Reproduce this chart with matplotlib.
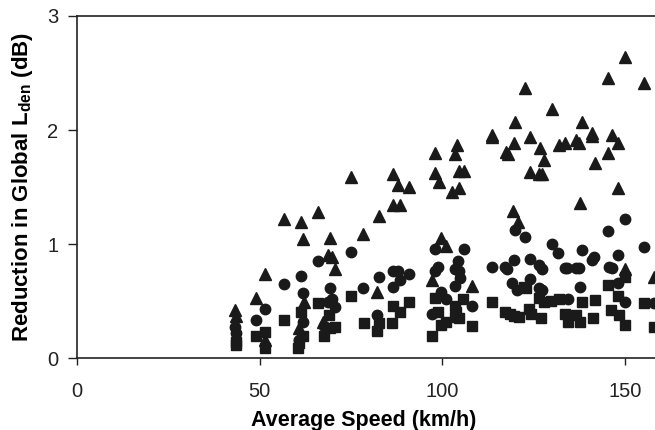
import matplotlib
matplotlib.use("Agg")
import matplotlib.pyplot as plt

plt.rcParams['font.family'] = ['Liberation Sans', 'DejaVu Sans']
plt.rcParams['mathtext.fontset'] = 'custom'
plt.rcParams['mathtext.rm'] = 'Liberation Sans'
plt.rcParams['mathtext.bf'] = 'Liberation Sans:bold'

# Triangles (upper series)
tri_x = [43.2, 43.6, 49.0, 51.5, 51.5, 56.6, 61.2, 61.8, 62.1, 60.7, 66.0, 67.4, 69.3, 68.6, 69.9,
         70.5, 74.9, 78.4, 82.0, 82.6, 86.6, 87.9, 90.8, 86.5, 88.4, 98.1, 98.1, 99.0, 99.5, 101.0,
         97.1, 104.0, 103.5, 104.6, 105.8, 102.6, 104.6, 108.0, 113.5, 113.6, 119.9, 122.7, 117.4,
         118.0, 119.7, 123.9, 126.7, 127.7, 124.0, 126.5, 127.4, 130.1, 131.8, 133.6, 136.5, 137.4,
         138.3, 140.9, 141.0, 141.7, 146.3, 148.1, 145.4, 145.4, 149.9, 155.3, 148.2, 137.7, 119.3,
         120.8, 150.0, 158.0]
tri_y = [0.42, 0.37, 0.53, 0.74, 0.16, 1.22, 1.19, 1.04, 0.49, 0.26, 1.28, 0.32, 1.05, 0.90, 0.89,
         0.78, 1.59, 1.09, 0.58, 1.25, 1.61, 1.52, 1.50, 1.34, 1.34, 1.80, 1.62, 1.54, 1.05, 0.98,
         0.68, 1.87, 1.79, 1.64, 1.64, 1.46, 1.49, 0.63, 1.96, 1.94, 2.07, 2.37, 1.81,
         1.79, 1.89, 1.94, 1.84, 1.74, 1.63, 1.61, 1.61, 2.18, 1.87, 1.89, 1.91, 1.89,
         2.07, 1.97, 1.95, 1.71, 1.96, 1.89, 1.80, 2.46, 2.64, 2.41, 1.49, 1.36, 1.29,
         1.19, 0.78, 0.71]

# Circles (middle series)
cir_x = [43.2, 43.6, 49.0, 51.5, 56.6, 61.2, 61.8, 61.8, 60.7, 66.0, 69.3, 68.6, 69.9, 70.5, 67.5,
         74.9, 78.4, 82.6, 82.0, 86.6, 87.9, 88.4, 86.5, 90.8, 98.1, 98.7, 98.1, 99.5, 101.0, 97.1,
         105.8, 104.2, 103.5, 104.6, 104.9, 103.4, 108.1, 113.5, 117.2, 117.8, 119.7, 119.9, 122.7,
         124.0, 119.0, 120.4, 123.9, 126.5, 127.4, 126.5, 127.4, 130.1, 131.7, 133.6, 134.2, 136.5,
         137.4, 138.3, 137.7, 140.9, 141.5, 134.4, 145.4, 149.9, 148.1, 145.6, 146.5, 148.1, 149.9,
         155.3, 158.0]
cir_y = [0.27, 0.22, 0.33, 0.43, 0.65, 0.72, 0.57, 0.32, 0.16, 0.85, 0.61, 0.49, 0.52, 0.45, 0.28,
         0.93, 0.61, 0.71, 0.38, 0.76, 0.76, 0.68, 0.62, 0.74, 0.96, 0.80, 0.76, 0.58, 0.52, 0.39,
         0.96, 0.85, 0.78, 0.76, 0.70, 0.63, 0.46, 0.80, 0.80, 0.78, 0.86, 1.12, 1.06,
         0.87, 0.66, 0.60, 0.69, 0.82, 0.78, 0.61, 0.60, 1.00, 0.92, 0.79, 0.79, 0.79,
         0.79, 0.95, 0.62, 0.86, 0.89, 0.52, 1.11, 1.22, 0.90, 0.80, 0.79, 0.66, 0.49,
         0.97, 0.48]

# Squares (lower series)
sq_x = [43.6, 43.6, 49.0, 51.5, 51.5, 56.6, 61.2, 61.8, 60.5, 60.7, 66.0, 69.1, 67.5, 70.5, 69.3,
        74.9, 78.5, 82.6, 82.0, 86.2, 86.6, 88.4, 90.8, 97.1, 98.1, 98.7, 99.5, 101.0, 105.7, 103.4,
        103.8, 103.4, 104.6, 108.1, 113.5, 117.2, 118.5, 119.7, 120.9, 122.4, 123.0, 123.8, 124.2,
        126.5, 127.9, 129.7, 131.8, 127.0, 133.6, 134.5, 136.5, 137.6, 138.3, 141.1, 141.8, 145.4,
        148.1, 146.1, 148.4, 149.9, 150.0, 155.3, 158.0]
sq_y = [0.14, 0.11, 0.19, 0.23, 0.09, 0.33, 0.40, 0.19, 0.09, 0.13, 0.48, 0.38, 0.19, 0.27, 0.26,
        0.54, 0.31, 0.31, 0.24, 0.31, 0.46, 0.40, 0.49, 0.19, 0.53, 0.40, 0.29, 0.32, 0.52, 0.46,
        0.40, 0.36, 0.35, 0.28, 0.49, 0.40, 0.39, 0.37, 0.36, 0.62, 0.61, 0.43, 0.39,
        0.53, 0.49, 0.50, 0.52, 0.35, 0.39, 0.32, 0.38, 0.32, 0.49, 0.35, 0.51, 0.64,
        0.54, 0.42, 0.38, 0.29, 0.71, 0.48, 0.27]

x_ticks = [0, 50, 100, 150]
y_ticks = [0, 1, 2, 3]

fig = plt.figure(figsize=(6.55, 4.3), dpi=100)
ax = fig.add_axes([0.1176, 0.1674, 0.8824 + 0.01, 0.7954])

col = '#1a1a1a'
ax.plot(sq_x, sq_y, 's', color=col, markersize=6.5, clip_on=True)
ax.plot(cir_x, cir_y, 'o', color=col, markersize=7.5, clip_on=True)
ax.plot(tri_x, tri_y, '^', color=col, markersize=8, clip_on=True)

ax.set_xlim(0, 160)
ax.set_ylim(0, 3)
ax.set_xticks(x_ticks)
ax.set_yticks(y_ticks)
ax.tick_params(axis='both', direction='out', width=1, labelsize=14.5, colors='#222222')
ax.tick_params(axis='x', length=5, pad=12)
ax.tick_params(axis='y', length=6.5, pad=7)
for s in ['left', 'bottom', 'top']:
    ax.spines[s].set_linewidth(1.2)
    ax.spines[s].set_color('#222222')
ax.spines['right'].set_visible(False)

ax.set_xlabel('Average Speed (km/h)', fontsize=15.5, fontweight='bold')
ax.xaxis.set_label_coords(0.491, -0.152, transform=ax.transAxes)
ax.xaxis.label.set_verticalalignment('top')
ax.set_ylabel(r'Reduction in Global L$_{\mathbf{den}}$ (dB)', fontsize=16, fontweight='bold', labelpad=9)

fig.savefig('out.png', dpi=100)
